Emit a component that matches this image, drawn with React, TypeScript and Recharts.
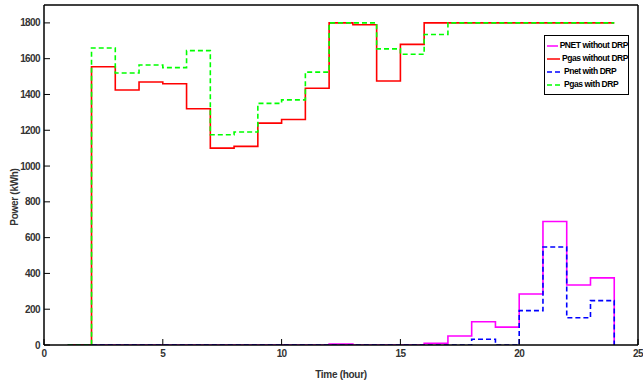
import { LineChart, Line, XAxis, YAxis, Legend } from "recharts";

// hour at which each step starts; the last entry closes the final step
const hours = [1, 2, 3, 4, 5, 6, 7, 8, 9, 10, 11, 12, 13, 14, 15, 16, 17, 18, 19, 20, 21, 22, 23, 24];

const pnetWithoutDrp = [0, 0, 0, 0, 0, 0, 0, 0, 0, 0, 0, 5, 0, 0, 0, 10, 50, 130, 100, 285, 690, 335, 375, 0];
const pgasWithoutDrp = [0, 1555, 1425, 1470, 1460, 1320, 1100, 1110, 1240, 1260, 1435, 1800, 1790, 1475, 1680, 1800, 1800, 1800, 1800, 1800, 1800, 1800, 1800, 1800];
const pnetWithDrp = [0, 0, 0, 0, 0, 0, 0, 0, 0, 0, 0, 0, 0, 0, 0, 0, 0, 32, 0, 192, 548, 152, 248, 0];
const pgasWithDrp = [0, 1660, 1520, 1565, 1550, 1645, 1175, 1190, 1350, 1370, 1525, 1800, 1800, 1655, 1625, 1735, 1800, 1800, 1800, 1800, 1800, 1800, 1800, 1800];

const xTicks = [0, 5, 10, 15, 20, 25];
const yTicks = [0, 200, 400, 600, 800, 1000, 1200, 1400, 1600, 1800];

const data = hours.map((h, i) => ({
  hour: h,
  pnetNoDrp: pnetWithoutDrp[i],
  pgasNoDrp: pgasWithoutDrp[i],
  pnetDrp: pnetWithDrp[i],
  pgasDrp: pgasWithDrp[i],
}));

const series = [
  { key: "pnetNoDrp", name: "PNET without DRP", color: "#ff00ff", dash: undefined as string | undefined },
  { key: "pgasNoDrp", name: "Pgas without DRP", color: "#ff0000", dash: undefined as string | undefined },
  { key: "pnetDrp", name: "Pnet with DRP", color: "#0000ff", dash: "5 3" },
  { key: "pgasDrp", name: "Pgas with DRP", color: "#00ff00", dash: "5 3" },
];

const font = '"Liberation Sans Narrow", "Arial Narrow", "Liberation Sans", Arial, sans-serif';
const tickStyle = { fill: "#333", fontSize: 10, fontFamily: font, fontWeight: "bold" as const, letterSpacing: -0.6 };
const axisLine = { stroke: "#000", strokeWidth: 1.5 };
const tickLine = { stroke: "#000", strokeWidth: 1 };

const LegendBox = () => (
  <div
    style={{
      width: 85,
      boxSizing: "border-box",
      border: "1px solid #000",
      background: "#fff",
      padding: "3px 0 3px 2px",
      fontFamily: font,
      fontSize: 8.5,
      fontWeight: "bold",
      letterSpacing: -0.45,
      lineHeight: "13px",
      color: "#000",
    }}
  >
    {series.map((s) => (
      <div key={s.key} style={{ display: "flex", alignItems: "center", whiteSpace: "nowrap" }}>
        <svg width={15} height={6}>
          <line x1={0} y1={3} x2={15} y2={3} stroke={s.color} strokeWidth={1.5} strokeDasharray={s.dash} />
        </svg>
        <span style={{ marginLeft: 2 }}>{s.name}</span>
      </div>
    ))}
  </div>
);

const YLabel = (props: any) => {
  const vb = props.viewBox;
  const cx = vb.x + 14;
  const cy = vb.y + vb.height / 2 + 22;
  return (
    <text
      x={cx}
      y={cy}
      transform={`rotate(-90 ${cx} ${cy})`}
      textAnchor="middle"
      dominantBaseline="central"
      fill="#333"
      fontSize={10}
      fontFamily={font}
      fontWeight="bold"
      letterSpacing={-0.3}
    >
      Power (kWh)
    </text>
  );
};

export default function App() {
  return (
    <div style={{ position: "absolute", left: 0, top: 0, background: "#fff" }}>
      <LineChart width={643} height={384} data={data} margin={{ top: 0, right: 0, bottom: 0, left: 0 }}>
        <XAxis
          xAxisId="bottom"
          dataKey="hour"
          type="number"
          domain={[0, 25]}
          ticks={xTicks}
          allowDataOverflow
          height={39}
          axisLine={axisLine}
          tickLine={tickLine}
          tickSize={-6}
          tickMargin={11}
          tick={tickStyle}
          label={{
            value: "Time (hour)",
            position: "insideBottom",
            offset: 6,
            style: { fill: "#333", fontSize: 10, fontFamily: font, fontWeight: "bold", letterSpacing: -0.3 },
          }}
        />
        <XAxis
          xAxisId="top"
          orientation="top"
          type="number"
          domain={[0, 25]}
          ticks={xTicks}
          allowDataOverflow
          height={5}
          axisLine={axisLine}
          tickLine={tickLine}
          tickSize={6}
          tick={false}
        />
        <YAxis
          yAxisId="left"
          type="number"
          domain={[0, 1900]}
          ticks={yTicks}
          allowDataOverflow
          width={44}
          axisLine={axisLine}
          tickLine={tickLine}
          tickSize={-6}
          tickMargin={10}
          tick={tickStyle}
          label={YLabel}
        />
        <YAxis
          yAxisId="right"
          orientation="right"
          type="number"
          domain={[0, 1900]}
          ticks={yTicks}
          allowDataOverflow
          width={5}
          axisLine={axisLine}
          tickLine={tickLine}
          tickSize={6}
          tick={false}
        />
        <Legend
          layout="vertical"
          align="center"
          verticalAlign="middle"
          content={() => <LegendBox />}
          wrapperStyle={{ top: 35, left: 544, width: 85 }}
        />
        {series.map((s) => (
          <Line
            key={s.key}
            xAxisId="bottom"
            yAxisId="left"
            type="stepAfter"
            dataKey={s.key}
            name={s.name}
            stroke={s.color}
            strokeWidth={1.6}
            strokeDasharray={s.dash}
            dot={false}
            activeDot={false}
            isAnimationActive={false}
          />
        ))}
      </LineChart>
    </div>
  );
}
